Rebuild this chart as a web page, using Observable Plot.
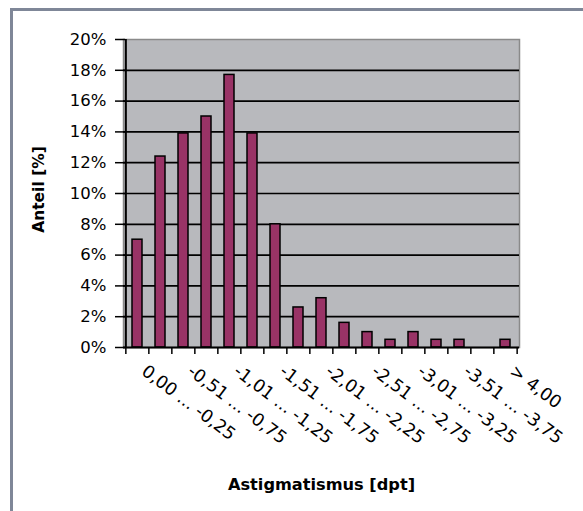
<!DOCTYPE html>
<html>
<head>
<meta charset="utf-8">
<script src="https://cdn.jsdelivr.net/npm/d3@7"></script>
<script src="https://cdn.jsdelivr.net/npm/@observablehq/plot@0.6"></script>
<style>
  html, body { margin: 0; padding: 0; background: #fff; }
  #wrap { position: relative; width: 583px; height: 511px; overflow: hidden; }
  #border { position: absolute; left: 10px; top: 8px; width: 600px; height: 600px;
            border-left: 3px solid #7f8798; border-top: 3px solid #7f8798; box-sizing: border-box; }
  #chart { position: absolute; left: 0; top: 0; }
</style>
</head>
<body>
<div id="wrap"><div id="border"></div><div id="chart"></div></div>
<script>
const categories = ["0,00 ... -0,25", "-0,26 ... -0,50", "-0,51 ... -0,75", "-0,76 ... -1,00",
  "-1,01 ... -1,25", "-1,26 ... -1,50", "-1,51 ... -1,75", "-1,76 ... -2,00",
  "-2,01 ... -2,25", "-2,26 ... -2,50", "-2,51 ... -2,75", "-2,76 ... -3,00",
  "-3,01 ... -3,25", "-3,26 ... -3,50", "-3,51 ... -3,75", "-3,76 ... -4,00", "> 4,00"];
const values = [7.0, 12.4, 13.9, 15.0, 17.7, 13.9, 8.0, 2.6, 3.2, 1.6, 1.0, 0.5, 1.0, 0.5, 0.5, 0, 0.5];
const yTicks = [0, 2, 4, 6, 8, 10, 12, 14, 16, 18, 20];
const gridTicks = [2, 4, 6, 8, 10, 12, 14, 16, 18];
const xTitle = "Astigmatismus [dpt]";
const yTitle = "Anteil [%]";

const data = categories.map((c, i) => ({cat: c, value: values[i]}));
const labeled = categories.filter((c, i) => i % 2 === 0);

const W = 583, H = 511;
const mL = 123, mR = 64, mT = 39, mB = 164;
const step = (W - mL - mR) / categories.length;

const chart = Plot.plot({
  width: W, height: H,
  marginLeft: mL, marginRight: mR, marginTop: mT, marginBottom: mB,
  style: {fontFamily: "DejaVu Sans, sans-serif", fontSize: "16px", background: "transparent", color: "#000", overflow: "visible"},
  x: {type: "band", domain: categories, paddingInner: 0.57, paddingOuter: 0.285, axis: null},
  y: {domain: [0, 20], axis: null},
  marks: [
    Plot.frame({fill: "#b8b9bd", stroke: "#8a8a8a", strokeWidth: 1.5}),
    Plot.gridY(gridTicks, {stroke: "#000", strokeOpacity: 1, strokeWidth: 1.7}),
    Plot.barY(data.filter(d => d.value > 0), {x: "cat", y: "value", fill: "#993366", stroke: "#000", strokeWidth: 1.5}),
    Plot.ruleY([0], {stroke: "#000", strokeWidth: 2}),
    Plot.ruleX([categories[0]], {dx: -step / 2, stroke: "#000", strokeWidth: 2}),
    Plot.axisY(yTicks, {tickFormat: d => d + "%", tickSize: 10, dx: 2, tickPadding: 9, stroke: "#000", strokeWidth: 1.5, fontSize: 16.5, fill: "#000", label: null}),
    Plot.ruleX(categories, {x: d => d, y1: 0, y2: 0, insetBottom: -7, dx: -step / 2, stroke: "#000", strokeWidth: 1.5}),
    Plot.ruleX([categories[categories.length - 1]], {x: d => d, y1: 0, y2: 0, insetBottom: -7, dx: step / 2, stroke: "#000", strokeWidth: 1.5}),
    Plot.text(labeled, {x: d => d, y: 0, text: d => d, rotate: 37, textAnchor: "start", lineAnchor: "bottom", dx: 3, dy: 26, fontSize: 17.5, fill: "#000"}),
    Plot.text([xTitle], {frameAnchor: "bottom", text: d => d, dy: 142, lineAnchor: "bottom", fontWeight: "bold", fontSize: 16.2, fill: "#000"}),
    Plot.text([yTitle], {frameAnchor: "left", text: d => d, rotate: -90, textAnchor: "middle", dx: -84, dy: -4, fontWeight: "bold", fontSize: 15.5, fill: "#000"})
  ]
});
document.getElementById("chart").appendChild(chart);
</script>
</body>
</html>
